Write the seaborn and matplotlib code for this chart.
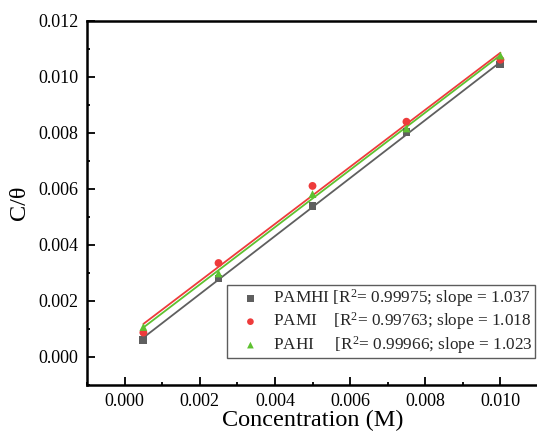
import numpy as np
import pandas as pd
import matplotlib
matplotlib.use("Agg")
import matplotlib.pyplot as plt
from matplotlib.ticker import AutoMinorLocator, MultipleLocator
import seaborn as sns

# ---- data ----
concentration = [0.0005, 0.0025, 0.005, 0.0075, 0.010]
pamhi = [0.00061, 0.00280, 0.00539, 0.00801, 0.01043]
pami = [0.00087, 0.00335, 0.00610, 0.00839, 0.01060]
pahi = [0.00107, 0.00298, 0.00581, 0.00815, 0.01075]

series_names = ["PAMHI", "PAMI", "PAHI"]
legend_labels = [
    "PAMHI [R$^2$= 0.99975; slope = 1.037",
    "PAMI    [R$^2$= 0.99763; slope = 1.018",
    "PAHI     [R$^2$= 0.99966; slope = 1.023",
]
colors = ["#5f5f5f", "#ee3b3b", "#5ec130"]
markers = ["s", "o", "^"]

sns.set_theme(style="white")
plt.rcParams["font.family"] = ["Liberation Serif", "DejaVu Serif"]
plt.rcParams["mathtext.fontset"] = "custom"
plt.rcParams["mathtext.rm"] = "Liberation Serif"
plt.rcParams["mathtext.it"] = "Liberation Serif:italic"

fig = plt.figure(figsize=(5.37, 4.33), dpi=100)
ax = fig.add_axes([87 / 537, 48 / 433, 451 / 537, 364.5 / 433])

data = {"PAMHI": pamhi, "PAMI": pami, "PAHI": pahi}
for name, lab, col, mk in zip(series_names, legend_labels, colors, markers):
    df = pd.DataFrame({"x": concentration, "y": data[name]})
    sns.regplot(data=df, x="x", y="y", ax=ax, ci=None, scatter=False,
                truncate=True, color=col, line_kws={"lw": 1.3})
    sns.scatterplot(data=df, x="x", y="y", ax=ax, color=col, marker=mk,
                    s=32, edgecolor="none", label=lab, zorder=3)

ax.set_xlim(-0.001, 0.011)
ax.set_ylim(-0.001, 0.012)
ax.xaxis.set_major_locator(MultipleLocator(0.002))
ax.yaxis.set_major_locator(MultipleLocator(0.002))
ax.xaxis.set_minor_locator(AutoMinorLocator(2))
ax.yaxis.set_minor_locator(AutoMinorLocator(2))
ax.xaxis.set_major_formatter(matplotlib.ticker.FormatStrFormatter("%.3f"))
ax.yaxis.set_major_formatter(matplotlib.ticker.FormatStrFormatter("%.3f"))

ax.tick_params(which="major", direction="in", length=5.5, width=1.3,
               labelsize=13, color="black", labelcolor="black",
               left=True, bottom=True, top=False, right=False, pad=6)
ax.tick_params(which="minor", direction="in", length=2.5, width=1.3,
               left=True, bottom=True, top=False, right=False, color="black")

for sp in ax.spines.values():
    sp.set_color("black")
    sp.set_linewidth(1.8)

ax.set_xlabel("Concentration (M)", fontsize=17.5, labelpad=0, color="black")
ax.set_ylabel("C/θ", fontsize=17.5, labelpad=6, color="black")

leg = ax.legend(loc="lower right", bbox_to_anchor=(535 / 537, 75 / 433),
                bbox_transform=fig.transFigure, borderaxespad=0,
                fontsize=12.4, frameon=True, fancybox=False,
                handletextpad=0.1, handlelength=2.45, labelspacing=0.09,
                borderpad=0.12, markerscale=0.85)
leg.get_frame().set_edgecolor("#333333")
leg.get_frame().set_linewidth(1.0)

fig.savefig("out.png", dpi=100)
